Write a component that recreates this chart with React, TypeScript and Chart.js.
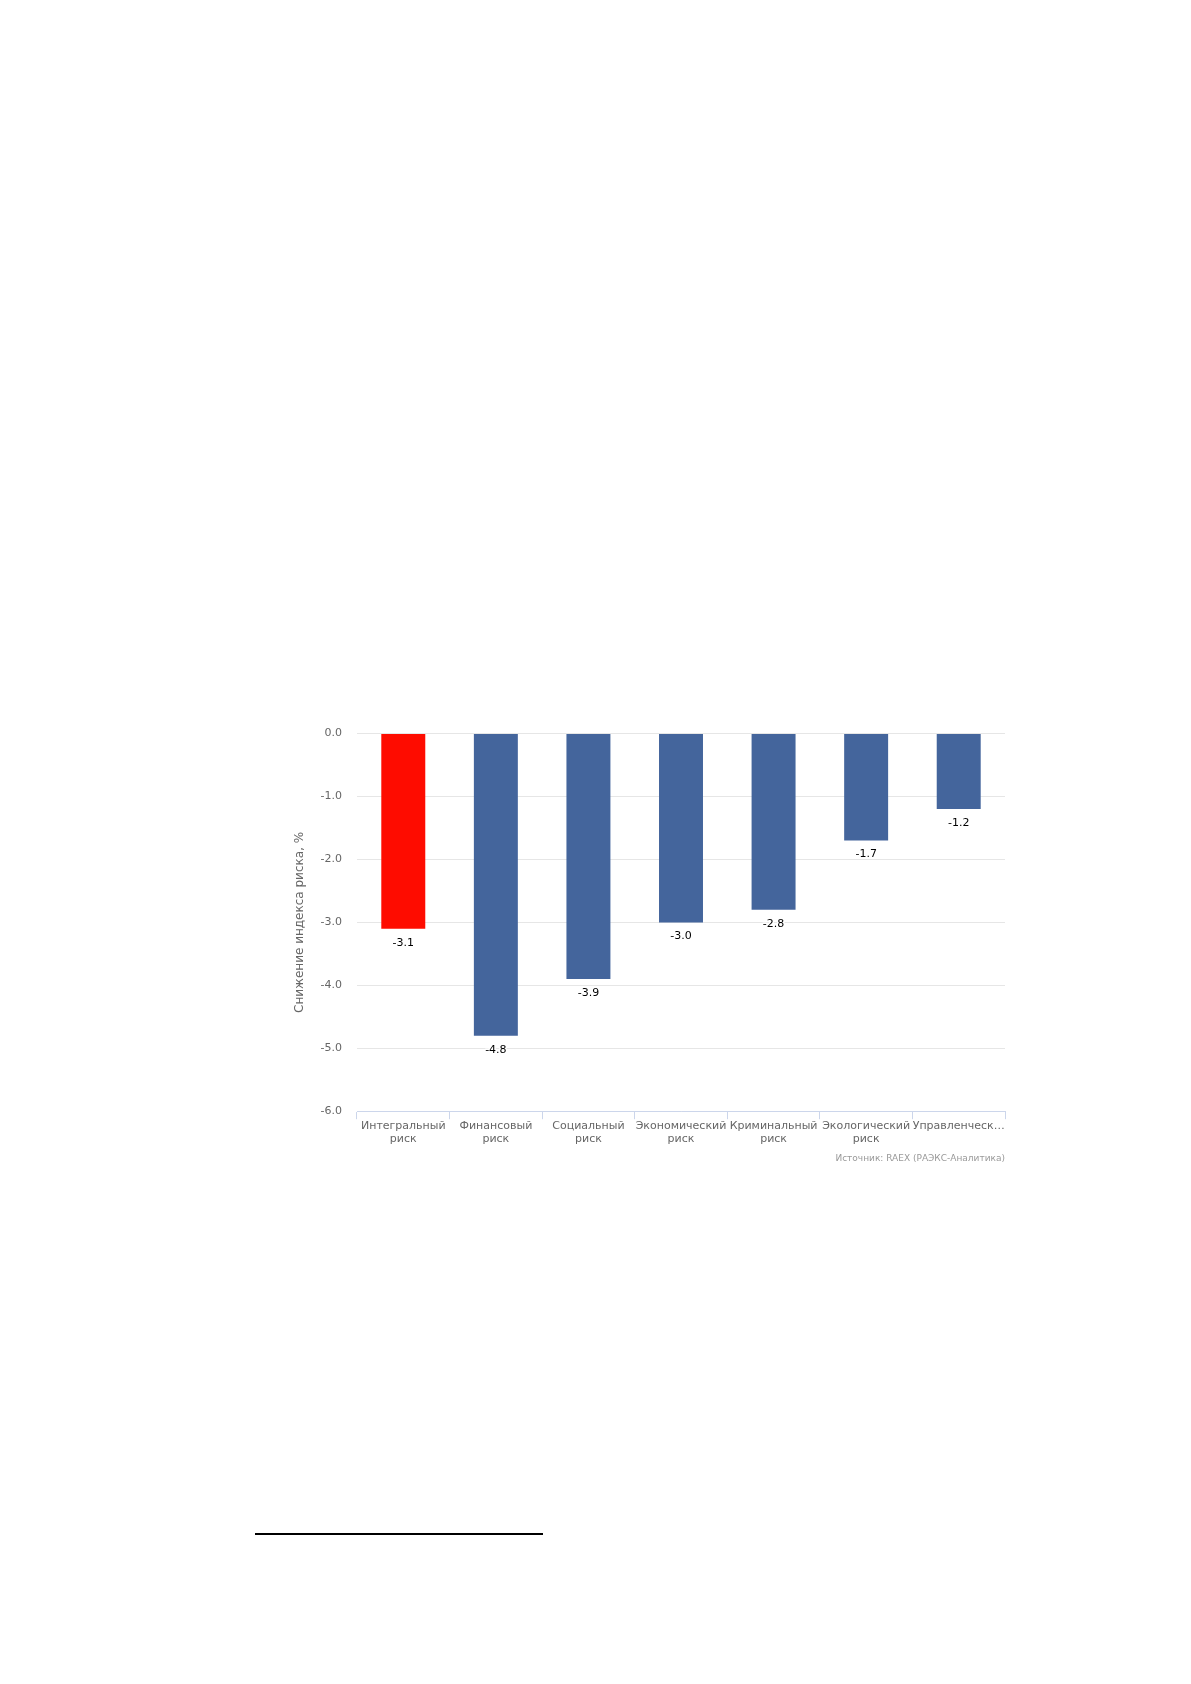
import React, { useEffect, useRef } from "react";
import { Chart, registerables } from "chart.js";

Chart.register(...registerables);

const categories: string[][] = [
  ["Интегральный", "риск"],
  ["Финансовый", "риск"],
  ["Социальный", "риск"],
  ["Экономический", "риск"],
  ["Криминальный", "риск"],
  ["Экологический", "риск"],
  ["Управленческ…"],
];
const values: number[] = [-3.1, -4.8, -3.9, -3.0, -2.8, -1.7, -1.2];
const barColors: string[] = ["#fe0c00", "#44659c", "#44659c", "#44659c", "#44659c", "#44659c", "#44659c"];
const yTicks = { min: -6, max: 0, step: 1 };
const yTitle = "Снижение индекса риска, %";
const sourceText = "Источник: RAEX (РАЭКС-Аналитика)";

const FONT = "'DejaVu Sans', Verdana, sans-serif";

const valueLabels = {
  id: "valueLabels",
  afterDatasetsDraw(chart: any) {
    const ctx = chart.ctx;
    const meta = chart.getDatasetMeta(0);
    ctx.save();
    ctx.font = `11px ${FONT}`;
    ctx.textAlign = "center";
    ctx.textBaseline = "middle";
    meta.data.forEach((bar: any, i: number) => {
      const v = chart.data.datasets[0].data[i] as number;
      const txt = v.toFixed(1);
      const y = bar.y + 14;
      ctx.lineWidth = 3;
      ctx.strokeStyle = "#ffffff";
      ctx.lineJoin = "round";
      ctx.strokeText(txt, bar.x, y);
      ctx.fillStyle = "#000000";
      ctx.fillText(txt, bar.x, y);
    });
    ctx.restore();
  },
};

function BarChart() {
  const ref = useRef<HTMLCanvasElement>(null);
  useEffect(() => {
    if (!ref.current) return;
    const chart = new Chart(ref.current, {
      type: "bar",
      data: {
        labels: categories,
        datasets: [
          {
            data: values,
            backgroundColor: barColors,
            borderWidth: 0,
            barPercentage: 0.95,
            categoryPercentage: 0.5,
          },
        ],
      },
      options: {
        animation: false,
        responsive: false,
        devicePixelRatio: 1,
        layout: { padding: { top: 10, right: 10, left: 0, bottom: 0 } },
        plugins: {
          legend: { display: false },
          tooltip: { enabled: false },
          subtitle: {
            display: true,
            text: sourceText,
            position: "bottom",
            align: "end",
            color: "#999999",
            font: { family: FONT, size: 9 },
            padding: { top: 2, bottom: 8 },
          },
        },
        scales: {
          x: {
            grid: {
              offset: true,
              drawOnChartArea: false,
              tickLength: 8,
              color: "#ccd6eb",
            },
            border: { color: "#ccd6eb" },
            ticks: {
              color: "#666666",
              font: { family: FONT, size: 11 },
              padding: 0,
              maxRotation: 0,
              autoSkip: false,
            },
            afterFit(scale: any) {
              scale.height = 40;
            },
          },
          y: {
            min: yTicks.min,
            max: yTicks.max,
            grid: { color: "#e6e6e6", drawTicks: false },
            border: { display: false },
            ticks: {
              stepSize: yTicks.step,
              color: "#666666",
              font: { family: FONT, size: 11 },
              padding: 15,
              callback: (v: any) => Number(v).toFixed(1),
            },
            title: {
              display: true,
              text: yTitle,
              color: "#666666",
              font: { family: FONT, size: 12 },
              padding: { top: 23, bottom: 0 },
            },
            afterFit(scale: any) {
              scale.width = 87;
            },
          },
        },
      },
      plugins: [valueLabels],
    });
    return () => chart.destroy();
  }, []);
  return <canvas ref={ref} width={745} height={460} style={{ width: 745, height: 460, display: "block" }} />;
}

export default function App() {
  return (
    <div style={{ position: "relative", width: 1175, height: 1668 }}>
      <div style={{ position: "absolute", left: 262, top: 704 }}>
        <BarChart />
      </div>
      <div
        style={{
          position: "absolute",
          left: 247,
          top: 1525,
          width: 288,
          height: 2,
          background: "#000",
        }}
      />
    </div>
  );
}
